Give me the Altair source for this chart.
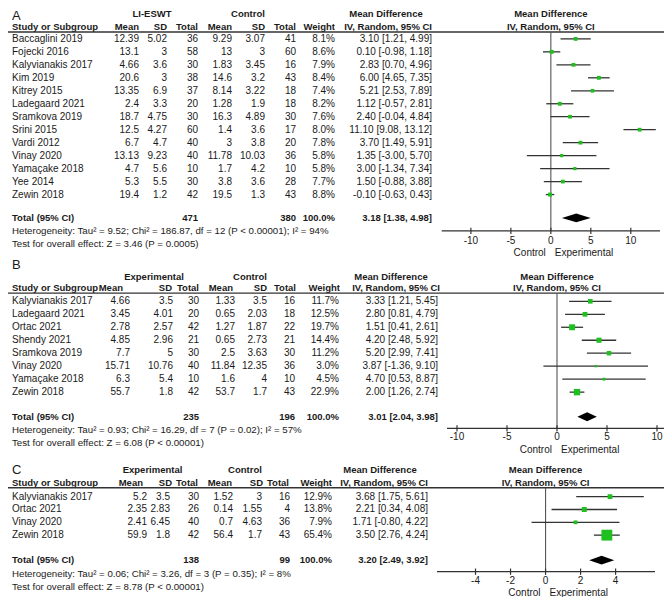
import altair as alt
import pandas as pd

# ---------------- data ----------------
A_study = ["Baccaglini 2019", "Fojecki 2016", "Kalyvianakis 2017", "Kim 2019", "Kitrey 2015",
           "Ladegaard 2021", "Sramkova 2019", "Srini 2015", "Vardi 2012", "Vinay 2020",
           "Yamaçake 2018", "Yee 2014", "Zewin 2018"]
A_e_mean = [12.39, 13.1, 4.66, 20.6, 13.35, 2.4, 18.7, 12.5, 6.7, 13.13, 4.7, 5.3, 19.4]
A_e_sd = [5.02, 3, 3.6, 3, 6.9, 3.3, 4.75, 4.27, 4.7, 9.23, 5.6, 5.5, 1.2]
A_e_n = [36, 58, 30, 38, 37, 20, 30, 60, 40, 40, 10, 30, 42]
A_c_mean = [9.29, 13, 1.83, 14.6, 8.14, 1.28, 16.3, 1.4, 3, 11.78, 1.7, 3.8, 19.5]
A_c_sd = [3.07, 3, 3.45, 3.2, 3.22, 1.9, 4.89, 3.6, 3.8, 10.03, 4.2, 3.6, 1.3]
A_c_n = [41, 60, 16, 43, 18, 18, 30, 17, 20, 36, 10, 28, 43]
A_weight = [8.1, 8.6, 7.9, 8.4, 7.4, 8.2, 7.6, 8.0, 7.8, 5.8, 5.8, 7.7, 8.8]
A_md = [3.10, 0.10, 2.83, 6.00, 5.21, 1.12, 2.40, 11.10, 3.70, 1.35, 3.00, 1.50, -0.10]
A_lo = [1.21, -0.98, 0.70, 4.65, 2.53, -0.57, -0.04, 9.08, 1.49, -3.00, -1.34, -0.88, -0.63]
A_hi = [4.99, 1.18, 4.96, 7.35, 7.89, 2.81, 4.84, 13.12, 5.91, 5.70, 7.34, 3.88, 0.43]
A_totals = [471, 380]
A_summary = [3.18, 1.38, 4.98]
A_het = "Heterogeneity: Tau² = 9.52; Chi² = 186.87, df = 12 (P < 0.00001); I² = 94%"
A_test = "Test for overall effect: Z = 3.46 (P = 0.0005)"
A_ticks = [-10, -5, 0, 5, 10]

B_study = ["Kalyvianakis 2017", "Ladegaard 2021", "Ortac 2021", "Shendy 2021", "Sramkova 2019",
           "Vinay 2020", "Yamaçake 2018", "Zewin 2018"]
B_e_mean = [4.66, 3.45, 2.78, 4.85, 7.7, 15.71, 6.3, 55.7]
B_e_sd = [3.5, 4.01, 2.57, 2.96, 5, 10.76, 5.4, 1.8]
B_e_n = [30, 20, 42, 21, 30, 40, 10, 42]
B_c_mean = [1.33, 0.65, 1.27, 0.65, 2.5, 11.84, 1.6, 53.7]
B_c_sd = [3.5, 2.03, 1.87, 2.73, 3.63, 12.35, 4, 1.7]
B_c_n = [16, 18, 22, 21, 30, 36, 10, 43]
B_weight = [11.7, 12.5, 19.7, 14.4, 11.2, 3.0, 4.5, 22.9]
B_md = [3.33, 2.80, 1.51, 4.20, 5.20, 3.87, 4.70, 2.00]
B_lo = [1.21, 0.81, 0.41, 2.48, 2.99, -1.36, 0.53, 1.26]
B_hi = [5.45, 4.79, 2.61, 5.92, 7.41, 9.10, 8.87, 2.74]
B_totals = [235, 196]
B_summary = [3.01, 2.04, 3.98]
B_het = "Heterogeneity: Tau² = 0.93; Chi² = 16.29, df = 7 (P = 0.02); I² = 57%"
B_test = "Test for overall effect: Z = 6.08 (P < 0.00001)"
B_ticks = [-10, -5, 0, 5, 10]

C_study = ["Kalyvianakis 2017", "Ortac 2021", "Vinay 2020", "Zewin 2018"]
C_e_mean = [5.2, 2.35, 2.41, 59.9]
C_e_sd = [3.5, 2.83, 6.45, 1.8]
C_e_n = [30, 26, 40, 42]
C_c_mean = [1.52, 0.14, 0.7, 56.4]
C_c_sd = [3, 1.55, 4.63, 1.7]
C_c_n = [16, 4, 36, 43]
C_weight = [12.9, 13.8, 7.9, 65.4]
C_md = [3.68, 2.21, 1.71, 3.50]
C_lo = [1.75, 0.34, -0.80, 2.76]
C_hi = [5.61, 4.08, 4.22, 4.24]
C_totals = [138, 99]
C_summary = [3.20, 2.49, 3.92]
C_het = "Heterogeneity: Tau² = 0.06; Chi² = 3.26, df = 3 (P = 0.35); I² = 8%"
C_test = "Test for overall effect: Z = 8.78 (P < 0.00001)"
C_ticks = [-4, -2, 0, 2, 4]

COL_HEADERS = ["Mean", "SD", "Total", "Mean", "SD", "Total", "Weight"]

# ---------------- style / layout ----------------
FONT = "Liberation Sans"
FS = 10
FSB = 9.5
FSH = 9.7
TXT = "#1a1a1a"
LINE = "#333333"
ZERO = "#555555"
GREEN = "#1fbf1f"
W, H = 656, 589
K = 589 / 597.0


def X(px):
    return px - 8


def Y(px):
    return (px - 3) * K


ONE = pd.DataFrame({"k": [0]})


def fmt(v):
    return f"{v:g}"


def ci_text(m, lo, hi):
    return f"{m:.2f} [{lo:.2f}, {hi:.2f}]"


def build_panel(P):
    n = len(P["study"])
    d0, d1 = -4, n + 6
    ysc = alt.Scale(domain=[d0, d1],
                    range=[Y(P["row0"] + d0 * P["step"]), Y(P["row0"] + d1 * P["step"])],
                    nice=False, zero=False)
    xsc = alt.Scale(domain=P["xdom"], range=[X(P["xpx"][0]), X(P["xpx"][1])],
                    nice=False, zero=False)
    sizesc = alt.Scale(domain=[0, 100], range=[0, 180])

    def yd(row):
        return alt.YDatum(row, type="quantitative", scale=ysc, axis=None)

    def xd(v):
        return alt.XDatum(v, type="quantitative", scale=xsc, axis=None)

    def tmark(align, bold=False, size=None, **kw):
        if size is None:
            size = FSB if bold else FS
        return dict(align=align, baseline="middle", font=FONT, fontSize=size,
                    fontWeight="bold" if bold else "normal", color=TXT, **kw)

    def label(text, xpx, row, align="left", bold=False, size=None):
        return alt.Chart(ONE).mark_text(**tmark(align, bold, size)).encode(
            x=alt.value(X(xpx)), y=yd(row), text=alt.value(text))

    layers = []
    # panel letter and headers
    layers.append(label(P["letter"], 12, P["r_letter"], size=13))
    layers.append(label(P["grp"], P["h1"][0], P["r_h1"], "center", True))
    layers.append(label("Control", P["h1"][1], P["r_h1"], "center", True))
    layers.append(label("Mean Difference", P["h1"][2], P["r_h1"], "center", True))
    layers.append(label("Study or Subgroup", 12, P["r_h2"], "left", True))
    for t, px in zip(COL_HEADERS, P["hcols"]):
        layers.append(label(t, px, P["r_h2"], "right", True))
    layers.append(label("IV, Random, 95% CI", P["hci"], P["r_h2"], "right", True))
    for t, row in [("Mean Difference", P["r_h1"]), ("IV, Random, 95% CI", P["r_h2"])]:
        layers.append(alt.Chart(ONE).mark_text(**tmark("center", True)).encode(
            x=xd(0), y=yd(row), text=alt.value(t)))
    # header underline
    layers.append(alt.Chart(ONE).mark_rule(color=LINE, strokeWidth=1.4).encode(
        x=alt.value(0), x2=alt.value(W), y=yd(P["r_line"])))

    # study rows
    df = pd.DataFrame({
        "row": list(range(n)),
        "study": P["study"],
        "em": [fmt(v) for v in P["e_mean"]],
        "es": [fmt(v) for v in P["e_sd"]],
        "en": [fmt(v) for v in P["e_n"]],
        "cm": [fmt(v) for v in P["c_mean"]],
        "cs": [fmt(v) for v in P["c_sd"]],
        "cn": [fmt(v) for v in P["c_n"]],
        "wt": P["weight"],
        "w": [f"{w:.1f}%" for w in P["weight"]],
        "ci": [ci_text(m, l, h) for m, l, h in zip(P["md"], P["lo"], P["hi"])],
        "md": P["md"], "lo": P["lo"], "hi": P["hi"],
    })
    yrow = alt.Y("row:Q", scale=ysc, axis=None)
    layers.append(alt.Chart(df).mark_text(**tmark("left")).encode(
        x=alt.value(X(12)), y=yrow, text="study:N"))
    for f, px in zip(["em", "es", "en", "cm", "cs", "cn", "w"], P["vcols"]):
        layers.append(alt.Chart(df).mark_text(**tmark("right")).encode(
            x=alt.value(X(px)), y=yrow, text=f"{f}:N"))
    layers.append(alt.Chart(df).mark_text(**tmark("right")).encode(
        x=alt.value(X(P["vci"])), y=yrow, text="ci:N"))

    # total / heterogeneity / test
    rt = P["r_total"]
    layers.append(label("Total (95% CI)", 12, rt, "left", True))
    layers.append(label(str(P["totals"][0]), P["vcols"][2], rt, "right", True))
    layers.append(label(str(P["totals"][1]), P["vcols"][5], rt, "right", True))
    layers.append(label("100.0%", P["vcols"][6], rt, "right", True))
    layers.append(label(ci_text(*P["summary"]), P["vci"], rt, "right", True))
    layers.append(label(P["het"], 12, rt + P["het_gap"], "left", size=FSH))
    layers.append(label(P["test"], 12, rt + P["het_gap"] + 1.0, "left", size=FSH))

    # forest: zero line
    ra = P["r_axis"]
    layers.append(alt.Chart(ONE).mark_rule(color=ZERO, strokeWidth=1.1).encode(
        x=xd(0), y=yd(P["r_line"]), y2=alt.Y2Datum(ra)))
    # CI lines
    xlo = alt.X("lo:Q", scale=xsc, axis=None)
    layers.append(alt.Chart(df).mark_rule(color=LINE, strokeWidth=1.3).encode(
        x=xlo, x2="hi:Q", y=yrow))
    # squares
    layers.append(alt.Chart(df).mark_square(color=GREEN, opacity=1, filled=True).encode(
        x=alt.X("md:Q", scale=xsc, axis=None), y=yrow,
        size=alt.Size("wt:Q", scale=sizesc, legend=None)))
    # summary diamond
    m, lo, hi = P["summary"]
    hgt = 0.34
    dia = pd.DataFrame({"x": [lo, m, hi], "y": [rt, rt - hgt, rt], "y2": [rt, rt + hgt, rt]})
    layers.append(alt.Chart(dia).mark_area(color="#000000", orient="vertical", opacity=1).encode(
        x=alt.X("x:Q", scale=xsc, axis=None),
        y=alt.Y("y:Q", scale=ysc, axis=None, stack=None), y2="y2:Q"))
    # axis line
    layers.append(alt.Chart(ONE).mark_rule(color=LINE, strokeWidth=1.2).encode(
        x=xd(P["xdom"][0]), x2=alt.X2Datum(P["xdom"][1]), y=yd(ra)))
    tdf = pd.DataFrame({"t": P["ticks"], "lab": [str(t) for t in P["ticks"]]})
    tdel = 3.2 / P["step"]
    layers.append(alt.Chart(tdf).mark_rule(color=LINE, strokeWidth=1.2).encode(
        x=alt.X("t:Q", scale=xsc, axis=None), y=yd(ra - tdel), y2=alt.Y2Datum(ra + tdel)))
    layers.append(alt.Chart(tdf).mark_text(**tmark("center")).encode(
        x=alt.X("t:Q", scale=xsc, axis=None), y=yd(P["r_ticklab"]), text="lab:N"))
    layers.append(alt.Chart(ONE).mark_text(**tmark("right", dx=-5)).encode(
        x=xd(0), y=yd(P["r_side"]), text=alt.value("Control")))
    layers.append(alt.Chart(ONE).mark_text(**tmark("left", dx=4)).encode(
        x=xd(0), y=yd(P["r_side"]), text=alt.value("Experimental")))
    return alt.layer(*layers)


PA = dict(letter="A", grp="LI-ESWT", study=A_study, e_mean=A_e_mean, e_sd=A_e_sd, e_n=A_e_n,
          c_mean=A_c_mean, c_sd=A_c_sd, c_n=A_c_n, weight=A_weight, md=A_md, lo=A_lo, hi=A_hi,
          totals=A_totals, summary=A_summary, het=A_het, test=A_test, ticks=A_ticks,
          row0=34.3, step=13.15, r_letter=-1.8, r_h1=-1.9, r_h2=-0.9, r_line=-0.53,
          r_total=13.8, het_gap=1.0, r_axis=14.8, r_ticklab=15.6, r_side=16.48,
          h1=[152, 248, 386], hcols=[139, 167, 198, 232, 265, 296, 335], hci=432,
          vcols=[139, 167, 198, 232, 265, 296, 335], vci=432,
          xdom=[-13.65, 13.65], xpx=[441.7, 660])

PB = dict(letter="B", grp="Experimental", study=B_study, e_mean=B_e_mean, e_sd=B_e_sd, e_n=B_e_n,
          c_mean=B_c_mean, c_sd=B_c_sd, c_n=B_c_n, weight=B_weight, md=B_md, lo=B_lo, hi=B_hi,
          totals=B_totals, summary=B_summary, het=B_het, test=B_test, ticks=B_ticks,
          row0=300.3, step=13.15, r_letter=-2.81, r_h1=-1.85, r_h2=-0.99, r_line=-0.63,
          r_total=8.9, het_gap=1.0, r_axis=9.79, r_ticklab=10.47, r_side=11.46,
          h1=[154, 250, 391], hcols=[123, 172, 199, 233, 267, 296, 340], hci=440,
          vcols=[130, 173, 199, 235, 267, 295, 339], vci=438,
          xdom=[-11.0, 10.8], xpx=[447, 665])

PC = dict(letter="C", grp="Experimental", study=C_study, e_mean=C_e_mean, e_sd=C_e_sd, e_n=C_e_n,
          c_mean=C_c_mean, c_sd=C_c_sd, c_n=C_c_n, weight=C_weight, md=C_md, lo=C_lo, hi=C_hi,
          totals=C_totals, summary=C_summary, het=C_het, test=C_test, ticks=C_ticks,
          row0=498.3, step=13.0, r_letter=-2.05, r_h1=-2.05, r_h2=-1.08, r_line=-0.69,
          r_total=4.95, het_gap=1.1, r_axis=5.85, r_ticklab=6.6, r_side=7.49,
          h1=[152.5, 245, 380], hcols=[143, 172, 198, 232, 263, 289, 332], hci=428,
          vcols=[147, 170, 199, 233, 262, 290, 332], vci=428,
          xdom=[-6.2, 6.25], xpx=[437, 655])

chart = alt.layer(build_panel(PA), build_panel(PB), build_panel(PC)).resolve_scale(
    x="independent", y="independent"
).properties(
    width=W, height=H, padding=0, autosize=alt.AutoSizeParams(type="none")
).configure_view(stroke=None)

chart.save("out.html", embed_options={"renderer": "svg", "actions": False})
